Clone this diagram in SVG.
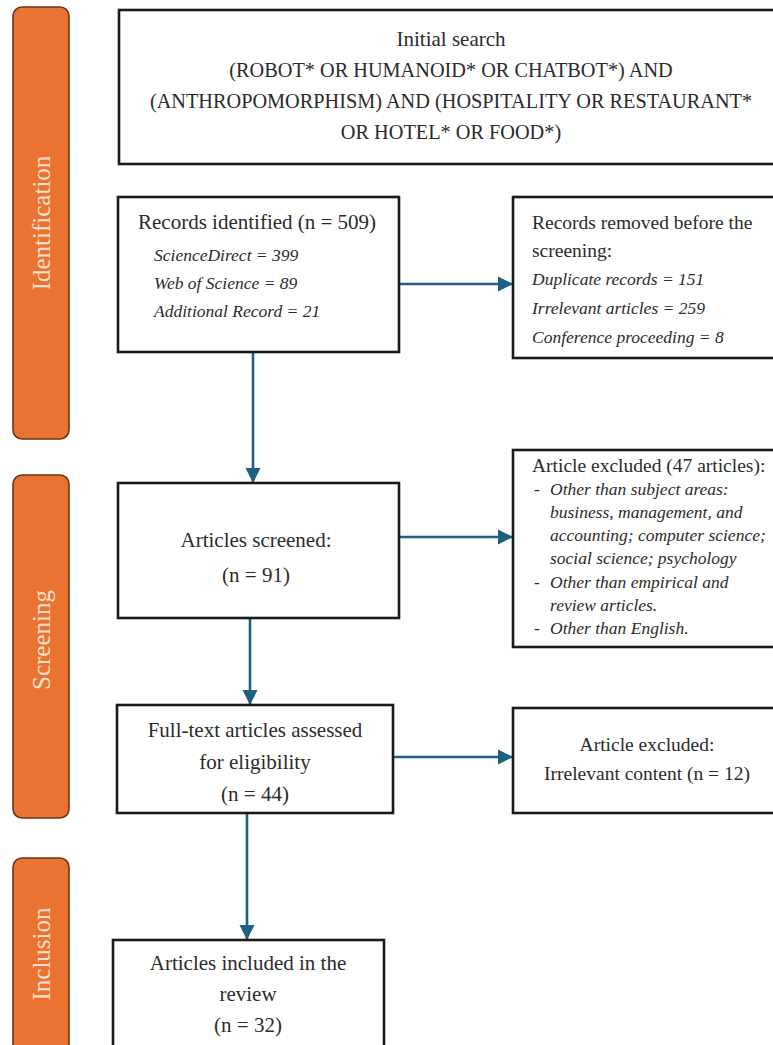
<svg xmlns="http://www.w3.org/2000/svg" width="773" height="1045" viewBox="0 0 773 1045">
  <style>
    .phase { fill: #EB7331; stroke: #6A3516; stroke-width: 1.6; }
    .phase-label { font-family: "Liberation Serif", serif; font-size: 25px; fill: #F7E0CF; text-anchor: middle; }
    .box { fill: #ffffff; stroke: #1a1a1a; stroke-width: 2.6; }
    .q { font-family: "Liberation Serif", serif; font-size: 20.3px; fill: #2b2b2b; }
    .t { font-family: "Liberation Serif", serif; font-size: 21px; fill: #2b2b2b; }
    .s { font-family: "Liberation Serif", serif; font-size: 19.5px; fill: #2b2b2b; }
    .i { font-family: "Liberation Serif", serif; font-size: 17.5px; font-style: italic; fill: #2b2b2b; }
    .c { text-anchor: middle; }
    .link { stroke: #1C6182; stroke-width: 2.6; fill: none; }
  </style>
  <defs>
    <marker id="head" viewBox="0 0 10 10" refX="10" refY="5" markerWidth="5.8" markerHeight="5.8" markerUnits="strokeWidth" orient="auto">
      <path d="M0,0 L10,5 L0,10 z" fill="#1C6182"/>
    </marker>
  </defs>

  <rect width="773" height="1045" fill="#ffffff"/>

  <!-- phase bars -->
  <g id="phase-identification">
    <rect class="phase" x="13" y="7" width="56" height="432" rx="9"/>
    <text class="phase-label" transform="translate(50 223) rotate(-90)">Identification</text>
  </g>
  <g id="phase-screening">
    <rect class="phase" x="13" y="475" width="56" height="343" rx="9"/>
    <text class="phase-label" transform="translate(50 640) rotate(-90)">Screening</text>
  </g>
  <g id="phase-inclusion">
    <rect class="phase" x="13" y="858" width="56" height="200" rx="9"/>
    <text class="phase-label" transform="translate(50 954) rotate(-90)">Inclusion</text>
  </g>

  <!-- connectors -->
  <g id="connectors">
    <line class="link" x1="399" y1="284" x2="513" y2="284" marker-end="url(#head)"/>
    <line class="link" x1="253" y1="352" x2="253" y2="483" marker-end="url(#head)"/>
    <line class="link" x1="399" y1="537" x2="513" y2="537" marker-end="url(#head)"/>
    <line class="link" x1="250" y1="618" x2="250" y2="705" marker-end="url(#head)"/>
    <line class="link" x1="393" y1="757" x2="513" y2="757" marker-end="url(#head)"/>
    <line class="link" x1="247" y1="813" x2="247" y2="940" marker-end="url(#head)"/>
  </g>

  <g id="initial-search">
    <rect class="box" x="119" y="10" width="660" height="154"/>
    <text class="t c" x="451" y="46">Initial search</text>
    <text class="q c" x="451" y="77">(ROBOT* OR HUMANOID* OR CHATBOT*) AND</text>
    <text class="q c" x="451" y="108">(ANTHROPOMORPHISM) AND (HOSPITALITY OR RESTAURANT*</text>
    <text class="q c" x="451" y="139">OR HOTEL* OR FOOD*)</text>
  </g>

  <g id="records-identified">
    <rect class="box" x="118" y="197" width="281" height="155"/>
    <text class="t" x="138" y="229">Records identified (n = 509)</text>
    <text class="i" x="154" y="261">ScienceDirect = 399</text>
    <text class="i" x="154" y="289">Web of Science = 89</text>
    <text class="i" x="154" y="317">Additional Record = 21</text>
  </g>

  <g id="records-removed">
    <rect class="box" x="513" y="197" width="266" height="161"/>
    <text class="s" x="532" y="229">Records removed before the</text>
    <text class="s" x="532" y="257">screening:</text>
    <text class="i" x="532" y="285">Duplicate records = 151</text>
    <text class="i" x="532" y="314">Irrelevant articles = 259</text>
    <text class="i" x="532" y="343">Conference proceeding = 8</text>
  </g>

  <g id="articles-screened">
    <rect class="box" x="118" y="483" width="281" height="135"/>
    <text class="t c" x="256" y="547">Articles screened:</text>
    <text class="t c" x="256" y="582">(n = 91)</text>
  </g>

  <g id="articles-excluded-47">
    <rect class="box" x="513" y="450" width="266" height="197"/>
    <text class="s" x="532" y="472">Article excluded (47 articles):</text>
    <text class="i" x="534" y="495">-</text>
    <text class="i" x="550" y="495">Other than subject areas:</text>
    <text class="i" x="550" y="518">business, management, and</text>
    <text class="i" x="550" y="541">accounting; computer science;</text>
    <text class="i" x="550" y="564">social science; psychology</text>
    <text class="i" x="534" y="588">-</text>
    <text class="i" x="550" y="588">Other than empirical and</text>
    <text class="i" x="550" y="611">review articles.</text>
    <text class="i" x="534" y="634">-</text>
    <text class="i" x="550" y="634">Other than English.</text>
  </g>

  <g id="full-text-assessed">
    <rect class="box" x="117" y="705" width="276" height="108"/>
    <text class="t c" x="255" y="737">Full-text articles assessed</text>
    <text class="t c" x="255" y="769">for eligibility</text>
    <text class="t c" x="255" y="801">(n = 44)</text>
  </g>

  <g id="articles-excluded-12">
    <rect class="box" x="513" y="708" width="266" height="105"/>
    <text class="s c" x="647" y="751">Article excluded:</text>
    <text class="s c" x="647" y="780">Irrelevant content (n = 12)</text>
  </g>

  <g id="articles-included">
    <rect class="box" x="113" y="940" width="271" height="120"/>
    <text class="t c" x="248" y="970">Articles included in the</text>
    <text class="t c" x="248" y="1001">review</text>
    <text class="t c" x="248" y="1032">(n = 32)</text>
  </g>
</svg>
